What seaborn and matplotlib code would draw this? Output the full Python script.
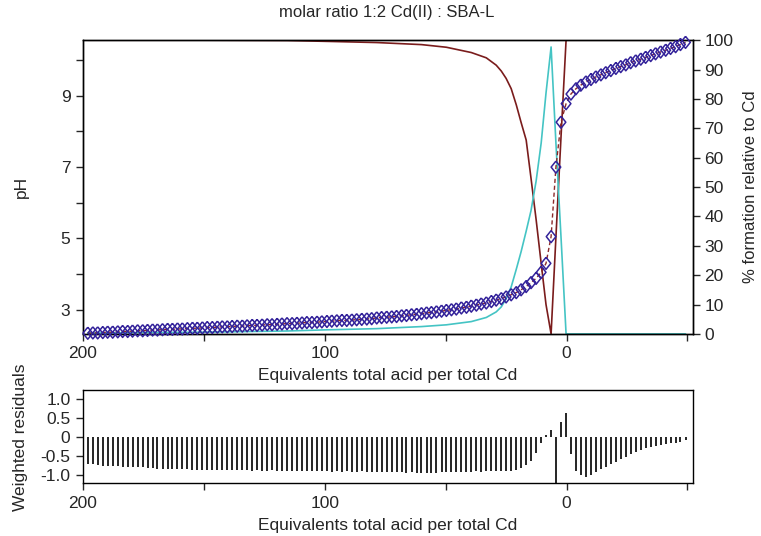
import pandas as pd
import seaborn as sns
import matplotlib.pyplot as plt
from matplotlib.ticker import FixedLocator, MultipleLocator

# Titration points: equivalents of total acid per total Cd
eq = [198.0, 195.9, 193.9, 191.8, 189.8, 187.7, 185.6, 183.6, 181.5, 179.5,
      177.4, 175.3, 173.3, 171.2, 169.2, 167.1, 165.0, 163.0, 160.9, 158.9,
      156.8, 154.7, 152.7, 150.6, 148.6, 146.5, 144.4, 142.4, 140.3, 138.3,
      136.2, 134.1, 132.1, 130.0, 128.0, 125.9, 123.8, 121.8, 119.7, 117.7,
      115.6, 113.5, 111.5, 109.4, 107.4, 105.3, 103.2, 101.2, 99.1, 97.1,
      95.0, 92.9, 90.9, 88.8, 86.8, 84.7, 82.6, 80.6, 78.5, 76.5,
      74.4, 72.3, 70.3, 68.2, 66.2, 64.1, 62.0, 60.0, 57.9, 55.9,
      53.8, 51.7, 49.7, 47.6, 45.6, 43.5, 41.4, 39.4, 37.3, 35.3,
      33.2, 31.1, 29.1, 27.0, 25.0, 22.9, 20.8, 18.8, 16.7, 14.7,
      12.6, 10.5, 8.5, 6.4, 4.4, 2.3, 0.2, -1.8, -3.9, -5.9,
      -8.0, -10.1, -12.1, -14.2, -16.2, -18.3, -20.4, -22.4, -24.5, -26.5,
      -28.6, -30.7, -32.7, -34.8, -36.8, -38.9, -41.0, -43.0, -45.1, -47.1,
      -49.2]

ph = [2.34, 2.35, 2.35, 2.36, 2.37, 2.37, 2.38, 2.39, 2.39, 2.40,
      2.41, 2.41, 2.42, 2.43, 2.43, 2.44, 2.45, 2.45, 2.46, 2.46,
      2.47, 2.48, 2.48, 2.49, 2.50, 2.50, 2.51, 2.52, 2.52, 2.53,
      2.54, 2.54, 2.55, 2.56, 2.56, 2.57, 2.58, 2.58, 2.59, 2.60,
      2.61, 2.61, 2.62, 2.63, 2.64, 2.64, 2.65, 2.66, 2.67, 2.68,
      2.69, 2.70, 2.70, 2.71, 2.72, 2.73, 2.74, 2.75, 2.77, 2.78,
      2.79, 2.80, 2.81, 2.83, 2.84, 2.86, 2.87, 2.89, 2.91, 2.92,
      2.94, 2.96, 2.98, 3.00, 3.02, 3.05, 3.07, 3.10, 3.13, 3.16,
      3.19, 3.23, 3.27, 3.31, 3.36, 3.42, 3.48, 3.56, 3.65, 3.76,
      3.88, 4.05, 4.30, 5.05, 7.00, 8.26, 8.78, 9.05, 9.20, 9.30,
      9.39, 9.46, 9.53, 9.59, 9.65, 9.71, 9.77, 9.82, 9.87, 9.93,
      9.98, 10.03, 10.08, 10.13, 10.18, 10.23, 10.28, 10.33, 10.38, 10.44,
      10.50]

resid = [-0.71, -0.72, -0.73, -0.75, -0.75, -0.75, -0.76, -0.78, -0.79, -0.78,
         -0.79, -0.80, -0.82, -0.82, -0.83, -0.83, -0.84, -0.84, -0.84, -0.85,
         -0.85, -0.86, -0.86, -0.86, -0.87, -0.86, -0.87, -0.87, -0.88, -0.87,
         -0.88, -0.88, -0.88, -0.89, -0.88, -0.89, -0.89, -0.88, -0.89, -0.89,
         -0.89, -0.90, -0.89, -0.90, -0.90, -0.89, -0.90, -0.90, -0.90, -0.91,
         -0.90, -0.91, -0.90, -0.91, -0.91, -0.90, -0.91, -0.92, -0.91, -0.92,
         -0.92, -0.92, -0.93, -0.93, -0.94, -0.93, -0.94, -0.95, -0.94, -0.95,
         -0.94, -0.93, -0.92, -0.92, -0.91, -0.92, -0.91, -0.91, -0.90, -0.91,
         -0.90, -0.90, -0.90, -0.89, -0.89, -0.89, -0.88, -0.82, -0.73, -0.63,
         -0.42, -0.17, 0.05, 0.19, -1.25, 0.39, 0.63, -0.45, -0.89, -1.00,
         -1.06, -0.99, -0.92, -0.83, -0.78, -0.72, -0.65, -0.58, -0.52, -0.46,
         -0.39, -0.34, -0.30, -0.26, -0.23, -0.22, -0.20, -0.16, -0.15, -0.13,
         -0.09]

# Species distribution (% relative to Cd), read at selected titration points
sp_eq = [198.0, 150.6, 115.6, 99.1, 78.5, 60.0, 49.7, 39.4, 33.2, 29.1, 27.0, 25.0,
         22.9, 20.8, 18.8, 16.7, 14.7, 12.6, 10.5, 8.5, 6.4, 4.4, 2.3, 0.2, -49.2]
cd_free = [100, 100, 99.9, 99.6, 99.2, 98.5, 97.6, 95.8, 94.0, 91.5, 89.5, 87.0,
           83.5, 78.0, 72.0, 66.0, 53.0, 39.0, 24.0, 10.0, 0.0, 33.0, 67.0, 100.0, 100.0]
cd_l = [0.3, 0.6, 1.0, 1.4, 1.8, 2.5, 3.1, 4.2, 5.6, 7.5, 9.2, 12.0,
        16.0, 22.0, 28.0, 35.0, 42.0, 52.0, 65.0, 82.0, 97.7, 65.0, 33.0, 0.0, 0.0]

titr = pd.DataFrame({'eq': eq, 'pH': ph, 'resid': resid})
spec = pd.DataFrame({'eq': sp_eq, 'free': cd_free, 'CdL': cd_l})

sns.set_style('ticks')
plt.rcParams['font.family'] = ['Liberation Sans', 'DejaVu Sans']
plt.rcParams['axes.linewidth'] = 1.0
fs = 12.5

fig = plt.figure(figsize=(7.61, 5.36), dpi=100)
ax = fig.add_axes([0.109, 0.377, 0.802, 0.548])
ax2 = ax.twinx()
axr = fig.add_axes([0.109, 0.098, 0.802, 0.174])

# species curves on the right axis
sns.lineplot(data=spec, x='eq', y='free', ax=ax2, color='#7a1c1c', lw=1.2,
             estimator=None, sort=False)
sns.lineplot(data=spec, x='eq', y='CdL', ax=ax2, color='#44c4c4', lw=1.2,
             estimator=None, sort=False)

# observed pH (diamonds) and the fitted curve (dashed)
diamond = [(0, 1), (0.8, 0), (0, -1), (-0.8, 0), (0, 1)]
sns.lineplot(data=titr, x='eq', y='pH', ax=ax, color='#8b2a2a', lw=1.0,
             linestyle=(0, (3, 2)), estimator=None, sort=False)
sns.scatterplot(data=titr, x='eq', y='pH', ax=ax, marker=diamond, s=75,
                facecolor='none', edgecolor='#33229a', linewidth=1.1, zorder=5,
                clip_on=False)
ax.set_zorder(ax2.get_zorder() + 1)
ax.patch.set_visible(False)

for a in (ax, axr):
    a.set_xlim(200, -52.4)
    a.xaxis.set_major_locator(FixedLocator([200, 100, 0]))
    a.xaxis.set_minor_locator(FixedLocator([150, 50, -50]))
    a.set_xlabel('Equivalents total acid per total Cd', fontsize=fs, labelpad=5)
    a.tick_params(which='both', direction='out', length=5, width=1,
                  labelsize=fs, pad=4)

ax.set_ylim(2.32, 10.56)
ax.yaxis.set_major_locator(FixedLocator([3, 5, 7, 9]))
ax.yaxis.set_minor_locator(FixedLocator([4, 6, 8, 10]))
ax.set_ylabel('pH', fontsize=fs)
ax.yaxis.set_label_coords(-0.089, 0.5)

ax2.set_ylim(0, 100)
ax2.yaxis.set_major_locator(MultipleLocator(10))
ax2.tick_params(direction='out', length=5, width=1, labelsize=fs, pad=3)
ax2.set_ylabel('% formation relative to Cd', fontsize=12)
ax2.yaxis.set_label_coords(1.082, 0.5)

# weighted residuals as vertical bars
axr.vlines(titr['eq'], 0, titr['resid'], color='black', lw=1.2)
axr.set_ylim(-1.22, 1.22)
axr.set_yticks([1.0, 0.5, 0, -0.5, -1.0])
axr.set_yticklabels(['1.0', '0.5', '0', '-0.5', '-1.0'])
axr.set_ylabel('Weighted residuals', fontsize=fs)
axr.yaxis.set_label_coords(-0.09, 0.5)

for a in (ax, ax2, axr):
    for s in a.spines.values():
        s.set_visible(True)
        s.set_color('black')

fig.text(0.508, 0.977, 'molar ratio 1:2 Cd(II) : SBA-L', ha='center', va='center',
         fontsize=12)

fig.savefig('out.png', dpi=100)
